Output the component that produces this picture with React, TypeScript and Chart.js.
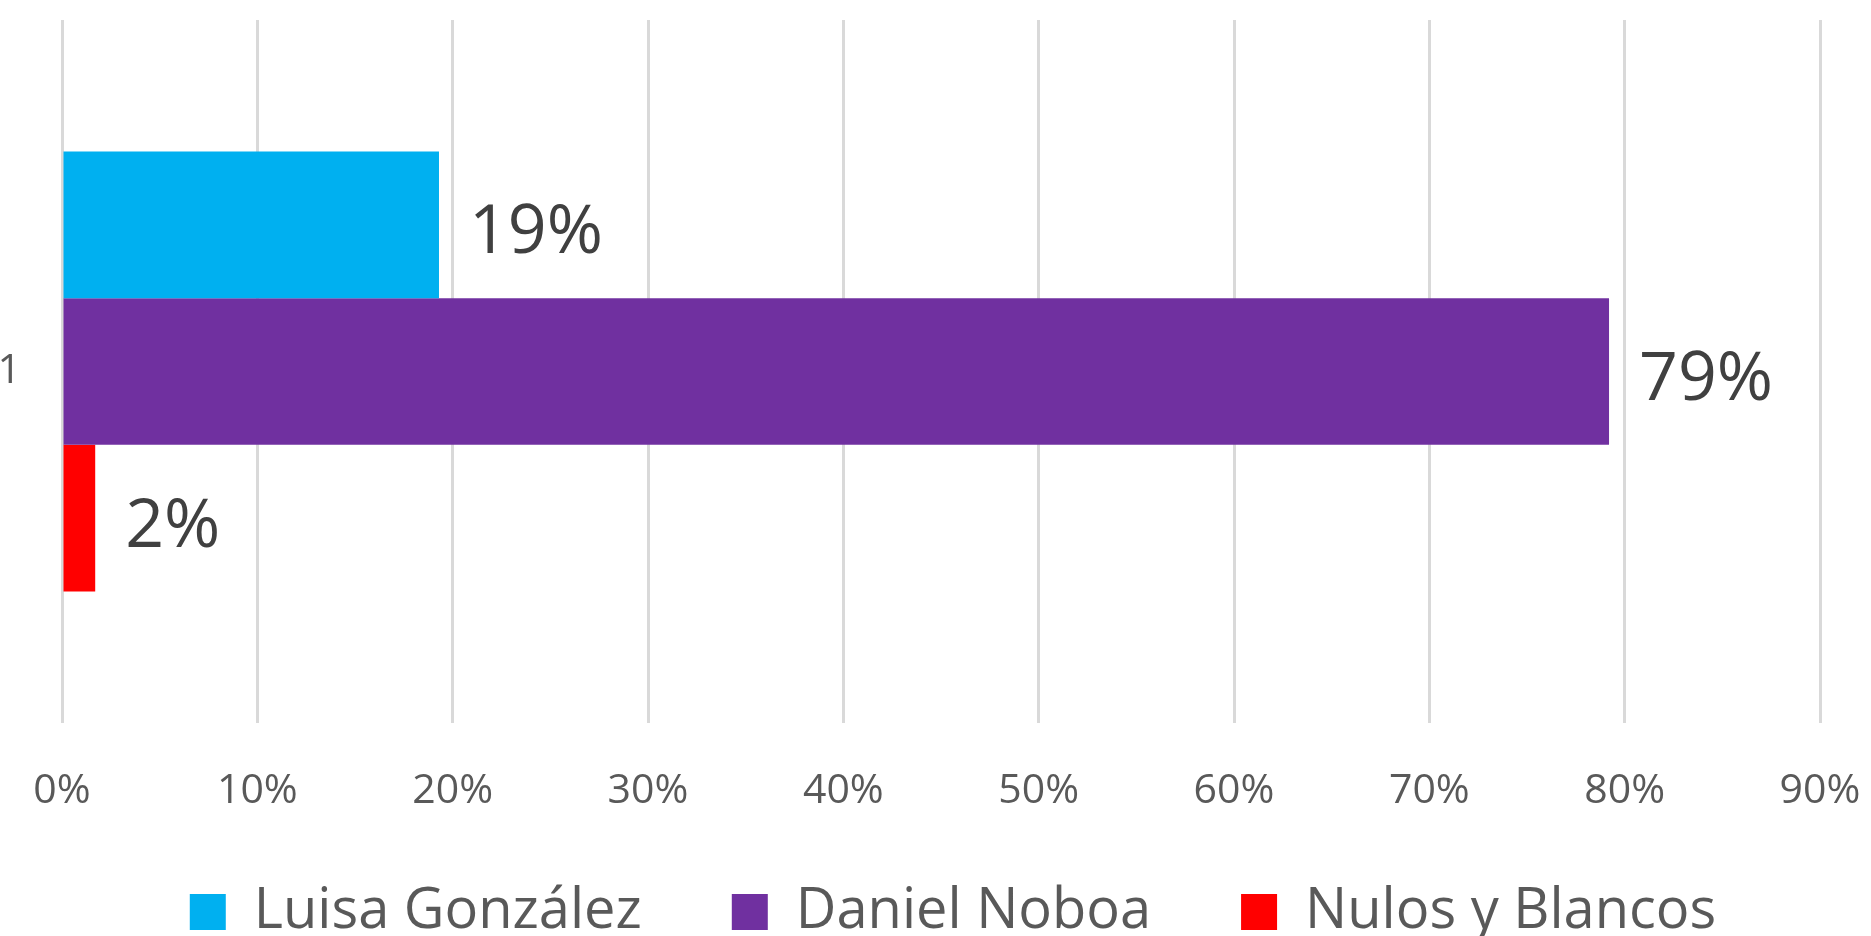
import React, { useEffect, useRef } from "react";
import { Chart, registerables } from "chart.js";

Chart.register(...registerables);

const categories = ["1"];
const seriesNames = ["Luisa González", "Daniel Noboa", "Nulos y Blancos"];
const seriesColors = ["#00B0F0", "#7030A0", "#FF0000"];
const luisaValues = [19.3];
const noboaValues = [79.2];
const nulosValues = [1.7];
const xMax = 90;
const xStep = 10;

const FONT = "'Open Sans', 'Noto Sans', sans-serif";

const dataLabelPlugin = {
  id: "dataLabels",
  afterDatasetsDraw(chart: any) {
    const ctx = chart.ctx;
    ctx.save();
    ctx.font = `68px ${FONT}`;
    ctx.fillStyle = "#404040";
    ctx.textAlign = "left";
    ctx.textBaseline = "middle";
    chart.data.datasets.forEach((ds: any, i: number) => {
      const meta = chart.getDatasetMeta(i);
      meta.data.forEach((el: any, j: number) => {
        const v = ds.data[j];
        ctx.fillText(Math.round(v) + "%", el.x + 30, el.y + 9);
      });
    });
    ctx.restore();
  },
};

// nudge the legend box so its row sits where the reference places it
const legendShiftPlugin = {
  id: "legendShift",
  afterLayout(chart: any) {
    const l = chart.legend;
    if (!l) return;
    l.top -= 24;
    l.height += 24;
    l.left += 43;
    l.right += 43;
  },
};

export default function App() {
  const ref = useRef<HTMLCanvasElement>(null);
  useEffect(() => {
    const seriesData = [luisaValues, noboaValues, nulosValues];
    const chart = new Chart(ref.current!, {
      type: "bar",
      data: {
        labels: categories,
        datasets: seriesNames.map((name, i) => ({
          label: name,
          data: seriesData[i],
          backgroundColor: seriesColors[i],
          borderWidth: 0,
          barPercentage: 1,
          categoryPercentage: 0.626,
        })),
      },
      options: {
        indexAxis: "y",
        responsive: false,
        animation: false,
        layout: { padding: { top: 20, right: 51, left: 0, bottom: 0 } },
        scales: {
          x: {
            min: 0,
            max: xMax,
            ticks: {
              stepSize: xStep,
              padding: 44,
              color: "#595959",
              font: { size: 41, family: FONT },
              callback: (v: any) => v + "%",
            },
            grid: { color: "#D9D9D9", lineWidth: 3, drawTicks: false },
            border: { display: false },
            afterFit: (s: any) => {
              s.height = 95;
              s.paddingLeft = 0;
              s.paddingRight = 0;
            },
          },
          y: {
            ticks: {
              padding: 41,
              color: "#595959",
              font: { size: 41, family: FONT },
            },
            grid: { display: false, drawTicks: false },
            border: { display: false },
            afterFit: (s: any) => {
              s.width = 62;
              s.paddingTop = 0;
              s.paddingBottom = 0;
            },
          },
        },
        plugins: {
          tooltip: { enabled: false },
          legend: {
            position: "bottom",
            maxHeight: 118,
            labels: {
              boxWidth: 36,
              boxHeight: 36,
              padding: 90,
              color: "#595959",
              font: { size: 56, family: FONT },
            },
          },
        },
      },
      plugins: [dataLabelPlugin, legendShiftPlugin],
    } as any);
    return () => chart.destroy();
  }, []);
  return (
    <div style={{ position: "absolute", left: 0, top: 0, width: 1871, height: 936, overflow: "hidden", background: "#fff" }}>
      <canvas ref={ref} width={1871} height={936} style={{ display: "block" }} />
    </div>
  );
}
